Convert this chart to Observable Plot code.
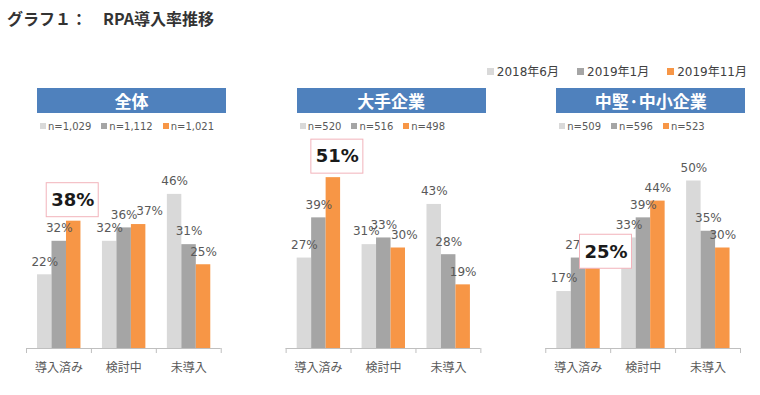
<!DOCTYPE html>
<html><head><meta charset="utf-8">
<script src="https://cdn.jsdelivr.net/npm/d3@7"></script>
<script src="https://cdn.jsdelivr.net/npm/@observablehq/plot@0.6"></script>
<style>
html,body{margin:0;padding:0;background:#fff;}
#wrap{position:relative;width:760px;height:395px;overflow:hidden;font-family:"DejaVu Sans","Noto Sans CJK JP",sans-serif;}
#title{position:absolute;left:7px;top:6px;font-family:"Noto Sans CJK JP",sans-serif;font-weight:bold;font-size:16px;color:#333;line-height:24px;white-space:pre;}
#legend{position:absolute;right:13px;top:63px;font-size:12px;color:#404040;display:flex;gap:18px;line-height:18px;}
.sw{display:inline-block;width:7px;height:7px;margin-right:3px;vertical-align:1px;}
#chart{position:absolute;left:0;top:82px;}
.ptitle{position:absolute;height:25px;background:#4f81bd;color:#fff;font-family:"Noto Sans CJK JP",sans-serif;font-weight:bold;font-size:17px;text-align:center;line-height:25px;}
.nrow{position:absolute;font-size:10px;color:#595959;display:flex;gap:10px;line-height:14px;white-space:nowrap;}
.nrow .sw{width:6px;height:6px;margin-right:2px;vertical-align:1px;}
</style></head>
<body><div id="wrap">
<div id="title">グラフ１：　RPA導入率推移</div>
<div id="legend"></div>
<div id="chart"></div>
</div>
<script>
// ---- data ----
const panels = ["全体", "大手企業", "中堅·中小企業"];
const categories = ["導入済み", "検討中", "未導入"];
const periods = ["2018年6月", "2019年1月", "2019年11月"];
const sampleSizes = [
  ["n=1,029", "n=1,112", "n=1,021"],
  ["n=520", "n=516", "n=498"],
  ["n=509", "n=596", "n=523"]
];
// values per category: [2018年6月, 2019年1月, 2019年11月]
const valuesAll = [[22, 32, 38], [32, 36, 37], [46, 31, 25]];
const valuesLarge = [[27, 39, 51], [31, 33, 30], [43, 28, 19]];
const valuesSmb = [[17, 27, 25], [33, 39, 44], [50, 35, 30]];

// ---- styling / layout constants ----
const colors = ["#d9d9d9", "#a5a5a5", "#f79646"];
const barStart = 0.17, barW = 0.223;
const labelNudge = {
  "全体|検討中|2019年11月": 11,
  "大手企業|検討中|2018年6月": -3,
  "大手企業|検討中|2019年11月": 6
};
const highlightShift = [{dx: -1, dy: 0}, {dx: 4, dy: 0}, {dx: 13, dy: 8}];

const panelValues = [valuesAll, valuesLarge, valuesSmb];
const rows = [];
panels.forEach((p, pi) => categories.forEach((c, ci) => periods.forEach((s, si) =>
  rows.push({panel: p, pi, category: c, ci, period: s, si, value: panelValues[pi][ci][si]}))));
const slot = d => d.pi * 4 + d.ci;
const bx1 = d => slot(d) + barStart + d.si * barW;
const bx2 = d => bx1(d) + barW;
const bcx = d => bx1(d) + barW / 2;
const isHi = d => d.si === 2 && d.ci === 0;
const key = d => d.panel + "|" + d.category + "|" + d.period;

const catRows = [];
panels.forEach((p, pi) => categories.forEach((c, ci) => catRows.push({pi, ci, category: c})));
const bounds = [];
panels.forEach((p, pi) => [0, 1, 2, 3].forEach(b => bounds.push(pi * 4 + b)));

const hiMarks = [];
panels.forEach((p, pi) => {
  const hd = rows.filter(d => isHi(d) && d.pi === pi);
  const {dx, dy} = highlightShift[pi];
  hiMarks.push(Plot.rect(hd, {x1: bcx, x2: bcx, y1: "value", y2: "value",
    insetLeft: -26, insetRight: -26, insetTop: -38, insetBottom: 4,
    fill: "#fff", stroke: "#f2b3bb", strokeWidth: 1, dx, dy}));
  hiMarks.push(Plot.text(hd, {x: bcx, y: "value", text: d => d.value + "%",
    dy: -21 + dy, dx, fontSize: 18, fontWeight: "bold", fill: "#1a1a1a"}));
});

const chart = Plot.plot({
  width: 760, height: 313,
  marginLeft: 26, marginRight: 20, marginTop: 65, marginBottom: 47,
  style: {fontFamily: '"DejaVu Sans","Noto Sans CJK JP",sans-serif', fontSize: "12px", background: "#fff"},
  x: {domain: [0, 11], axis: null},
  y: {domain: [0, 60], axis: null},
  color: {domain: periods, range: colors},
  marks: [
    Plot.rect(rows, {x1: bx1, x2: bx2, y1: 0, y2: "value", fill: "period"}),
    Plot.ruleY(panels.map((p, pi) => pi), {x1: d => d * 4, x2: d => d * 4 + 3, y: 0, stroke: "#bfbfbf"}),
    Plot.ruleX(bounds, {x: d => d, y1: 0, y2: -1.5, stroke: "#bfbfbf"}),
    Plot.text(catRows, {x: d => d.pi * 4 + d.ci + 0.5, y: 0, dy: 20, text: "category",
      fill: "#595959", fontFamily: '"Noto Sans CJK JP",sans-serif', fontSize: 12}),
    Plot.text(rows.filter(d => !isHi(d) && !(key(d) in labelNudge)),
      {x: bcx, y: "value", text: d => d.value + "%", dy: -13, fill: "#595959", fontSize: 12}),
    ...rows.filter(d => key(d) in labelNudge).map(d =>
      Plot.text([d], {x: bcx, y: "value", text: d => d.value + "%", dy: -13, dx: labelNudge[key(d)], fill: "#595959", fontSize: 12})),
    ...hiMarks
  ]
});
document.getElementById("chart").append(chart);

// top legend
const legend = document.getElementById("legend");
periods.forEach((s, si) => {
  const item = document.createElement("span");
  item.innerHTML = `<span class="sw" style="background:${colors[si]}"></span>${s}`;
  legend.append(item);
});

// panel title boxes and sample sizes, positioned with the x scale
const xs = chart.scale("x");
const wrap = document.getElementById("wrap");
panels.forEach((p, pi) => {
  const left = xs.apply(pi * 4);
  const t = document.createElement("div");
  t.className = "ptitle";
  t.textContent = p;
  t.style.left = (left + 11) + "px";
  t.style.width = "189px";
  t.style.top = "88px";
  wrap.append(t);
  const n = document.createElement("div");
  n.className = "nrow";
  n.style.left = (left + 14) + "px";
  n.style.top = "120px";
  sampleSizes[pi].forEach((s, si) => {
    const it = document.createElement("span");
    it.innerHTML = `<span class="sw" style="background:${colors[si]}"></span>${s}`;
    n.append(it);
  });
  wrap.append(n);
});
</script>
</body></html>
